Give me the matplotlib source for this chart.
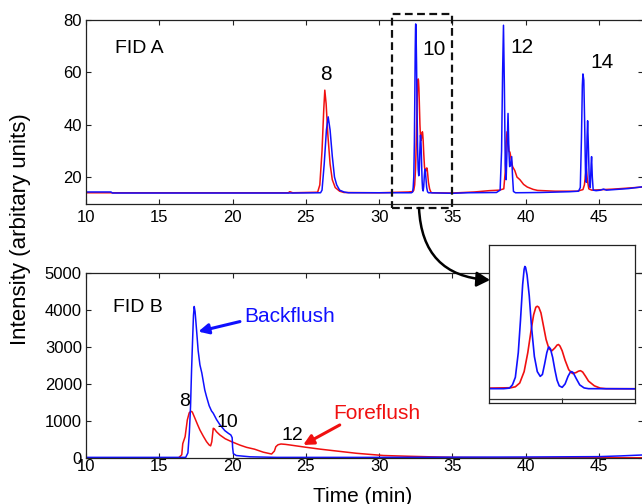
import numpy as np
import matplotlib
matplotlib.use('Agg')
import matplotlib.pyplot as plt
from matplotlib.patches import Rectangle, FancyArrowPatch

plt.rcParams['font.family'] = ['Liberation Sans', 'DejaVu Sans']

BLUE = '#1010ff'
RED = '#f01010'

# FID A, backflush (blue) and foreflush (red): time (min), signal
fid_a_blue_t = [10.0, 11.7, 11.8, 24.0, 26.0, 26.1, 26.25, 26.4, 26.52, 26.65, 26.8, 26.95,
                27.1, 27.3, 27.6, 27.9, 30.0,
                32.20, 32.28, 32.32, 32.36, 32.40, 32.43, 32.46, 32.48, 32.49, 32.50, 32.52,
                32.55, 32.58, 32.62, 32.66, 32.70, 32.73, 32.76, 32.79, 32.81, 32.82, 32.84,
                32.87, 32.90, 32.93, 32.96, 33.00, 33.04, 33.08, 33.11, 33.13, 33.15, 33.19,
                33.24, 33.30, 33.36,
                35.0, 36.0, 38.0, 38.25, 38.35, 38.42, 38.48, 38.54, 38.6, 38.66, 38.72, 38.79,
                38.85, 38.9, 38.96, 39.04, 39.1, 39.16, 39.3, 41.0, 43.0, 43.6, 43.72, 43.8,
                43.86, 43.9, 43.96, 44.02, 44.08, 44.13, 44.18, 44.22, 44.28, 44.34, 44.4,
                44.46, 44.49, 44.54, 44.6, 44.8, 45.1, 45.3, 45.5, 46.0, 47.0, 48.0]
fid_a_blue_v = [14.3, 14.3, 13.9, 13.9, 14.0, 15, 25, 38, 43.0, 38, 28, 20,
                17, 15, 14.3, 14.0, 14.0,
                14.0, 14.3, 16, 20, 33, 50, 69, 77, 78.5, 78, 74,
                63, 47, 31, 23, 20.5, 21.5, 27, 33, 35.5, 36, 35,
                30.5, 24, 18.5, 15.5, 14.7, 16.5, 20.5, 22.6, 23, 22.5, 19.5,
                16, 14.4, 14.0,
                13.8, 14.0, 14.1, 15, 30, 60, 78, 55, 25, 19, 30, 44.3,
                30, 24, 24.5, 27.8, 20, 14.5, 14.0, 14.1, 14.4, 14.6, 16, 35,
                55, 59.4, 57, 40, 20, 18, 35, 41.5, 30, 17, 16,
                25, 27.8, 20, 15, 14.8, 15.0, 15.4, 15.0, 15.2, 15.6, 16.3]

fid_a_red_t = [10.0, 23.8, 23.9, 24.1, 25.8, 25.95, 26.1, 26.22, 26.29, 26.38, 26.5, 26.65,
               26.8, 27.0, 27.3, 27.6, 30.0, 32.0,
               32.30, 32.36, 32.42, 32.48, 32.53, 32.58, 32.61, 32.64, 32.66, 32.68, 32.71,
               32.74, 32.78, 32.82, 32.86, 32.90, 32.93, 32.95, 32.97, 33.00, 33.04, 33.09,
               33.14, 33.19, 33.22, 33.25, 33.28, 33.32, 33.36, 33.44, 33.52, 33.60,
               35.0, 36.5, 37.5, 38.2, 38.5, 38.6, 38.66, 38.72, 38.78, 38.85, 38.92, 39.0,
               39.1, 39.25, 39.4, 39.6, 39.85, 40.1, 40.5, 40.8, 42.0, 43.5, 43.9, 44.0,
               44.08, 44.13, 44.2, 44.3, 44.5, 46.0, 48.0]
fid_a_red_v = [14.0, 14.0, 14.4, 14.0, 14.2, 17, 30, 46, 53.2, 48, 36, 25,
               19, 16, 14.6, 14.1, 14.0, 14.3,
               14.5, 15, 17, 23, 33, 46, 53, 57, 57.5, 57, 54,
               48, 40, 35, 34, 35.5, 37, 37.3, 36.5, 34, 29, 24,
               22, 22.5, 23.2, 23.5, 22.8, 20.5, 18, 15.5, 14.3, 14.0,
               13.9, 14.3, 14.8, 15.0, 15.5, 22, 33, 37.3, 34, 30, 29.5, 27,
               24, 22.5, 20, 19.0, 17.2, 16.2, 15.3, 14.9, 14.6, 14.6, 15.2, 17,
               21, 23.3, 19, 15.5, 15.0, 15.4, 16.2]

# FID B
fid_b_blue_t = [10.0, 16.8, 16.95, 17.05, 17.13, 17.2, 17.27, 17.33, 17.38, 17.44, 17.54,
                17.65, 17.77, 17.9, 18.1, 18.22, 18.4, 18.56, 18.68, 18.9, 19.13, 19.47,
                19.7, 19.88, 19.97, 20.0, 20.05, 20.25, 21.2, 23.0, 30.0, 40.0, 45.0,
                46.5, 48.0]
fid_b_blue_v = [30, 30, 150, 700, 1400, 2380, 3190, 3850, 4090, 3950, 3460,
                2900, 2520, 2300, 1845, 1664, 1420, 1280, 1217, 1050, 910, 749,
                680, 633, 560, 300, 130, 80, 45, 30, 30, 40, 50, 70, 95]

fid_b_red_t = [10.0, 16.3, 16.53, 16.6, 16.76, 16.91, 17.04, 17.16, 17.25, 17.43, 17.6,
               17.77, 18.0, 18.22, 18.4, 18.5, 18.58, 18.68, 18.75, 18.9, 19.13, 19.5,
               19.93, 20.5, 20.95, 21.5, 22.09, 22.66, 22.85, 22.95, 23.1, 23.3, 23.6,
               23.9, 25.0, 26.0, 26.86, 28.45, 30.3, 32.0, 35.0, 38.0, 48.0]
fid_b_red_v = [10, 10, 100, 400, 587, 1037, 1230, 1270, 1250, 1082, 920,
               767, 600, 453, 364, 340, 450, 813, 800, 720, 633, 530,
               452, 360, 300, 250, 170, 120, 200, 318, 370, 390, 380,
               364, 302, 250, 211, 140, 80, 60, 30, 20, 20]

ticks_x = [10, 15, 20, 25, 30, 35, 40, 45]
ticks_a = [20, 40, 60, 80]
ticks_b = [0, 1000, 2000, 3000, 4000, 5000]


def style_axis(ax, xpad):
    ax.tick_params(direction='in', top=True, right=True, length=3.6, width=0.8,
                   labelsize=12, color='#222222')
    ax.tick_params(axis='x', pad=xpad)
    ax.tick_params(axis='y', pad=3)
    for s in ax.spines.values():
        s.set_linewidth(0.9)
        s.set_color('#222222')


fig = plt.figure(figsize=(6.42, 5.04), dpi=100)

# upper chromatogram
ax1 = fig.add_axes([0.134, 0.5952, 0.8676, 0.3651])
ax1.plot(fid_a_red_t, fid_a_red_v, color=RED, lw=1.1)
ax1.plot(fid_a_blue_t, fid_a_blue_v, color=BLUE, lw=1.1)
ax1.set_xlim(10, 48)
ax1.set_ylim(9.7, 80)
ax1.set_xticks(ticks_x)
ax1.set_yticks(ticks_a)
style_axis(ax1, 4)
ax1.text(11.98, 67.3, 'FID A', fontsize=14, va='baseline')
for t, v, s in [(26.36, 57.1, '8'), (33.77, 66.6, '10'), (39.72, 67.3, '12'), (45.17, 61.5, '14')]:
    ax1.text(t, v, s, fontsize=15, ha='center', va='baseline')
ax1.add_patch(Rectangle((30.88, 8.15), 35.0 - 30.88, 82.3 - 8.15, fill=False,
                        ls=(0, (3.5, 2)), lw=1.6, ec='#111111', clip_on=False, zorder=5))

# lower chromatogram
ax2 = fig.add_axes([0.134, 0.0903, 0.8676, 0.3687])
ax2.plot(fid_b_red_t, fid_b_red_v, color=RED, lw=1.1)
ax2.plot(fid_b_blue_t, fid_b_blue_v, color=BLUE, lw=1.1)
ax2.set_xlim(10, 48)
ax2.set_ylim(0, 5000)
ax2.set_xticks(ticks_x)
ax2.set_yticks(ticks_b)
style_axis(ax2, 0.5)
ax2.text(11.86, 3954, 'FID B', fontsize=14, va='baseline')
for t, v, s in [(16.73, 1414, '8'), (19.65, 856, '10'), (24.1, 498, '12')]:
    ax2.text(t, v, s, fontsize=14, ha='center', va='baseline')
ax2.text(20.79, 3684, 'Backflush', fontsize=15, color=BLUE, va='baseline')
ax2.text(26.86, 1064, 'Foreflush', fontsize=15, color=RED, va='baseline')
ax2.annotate('', xy=(17.66, 3415), xytext=(20.5, 3684),
             arrowprops=dict(arrowstyle='-|>,head_length=0.6,head_width=0.3',
                             color=BLUE, lw=2.2, shrinkA=0, shrinkB=0))
ax2.annotate('', xy=(24.81, 364), xytext=(27.31, 902),
             arrowprops=dict(arrowstyle='-|>,head_length=0.6,head_width=0.3',
                             color=RED, lw=2.2, shrinkA=0, shrinkB=0))

# zoom on peak 10 of FID A
ax3 = fig.add_axes([0.7617, 0.201, 0.2279, 0.3135])
ax3.plot(fid_a_red_t, fid_a_red_v, color=RED, lw=1.2)
ax3.plot(fid_a_blue_t, fid_a_blue_v, color=BLUE, lw=1.2)
ax3.set_xlim(32, 34)
ax3.set_ylim(6.6, 90)
ax3.set_xticks([33])
ax3.set_xticklabels([])
ax3.set_yticks([])
ax3.tick_params(direction='in', length=3.6, width=0.8, color='#222222')
ax3.axhline(8.4, color='#333333', lw=0.9)
for s in ax3.spines.values():
    s.set_linewidth(0.9)
    s.set_color('#222222')

# curved arrow from the dashed box to the inset
fig.patches.append(FancyArrowPatch((419 / 642, 296 / 504), (490 / 642, 224 / 504),
                                   transform=fig.transFigure,
                                   connectionstyle='arc3,rad=0.45',
                                   arrowstyle='-|>,head_length=8,head_width=4.5',
                                   lw=1.8, color='black', shrinkA=0, shrinkB=0))

fig.text(20.5 / 642, 0.5456, 'Intensity (arbitary units)', rotation=90,
         fontsize=16, ha='center', va='center')
fig.text(362.5 / 642, 1.5 / 504, 'Time (min)', fontsize=15, ha='center', va='baseline')

fig.savefig('out.png', dpi=100)
